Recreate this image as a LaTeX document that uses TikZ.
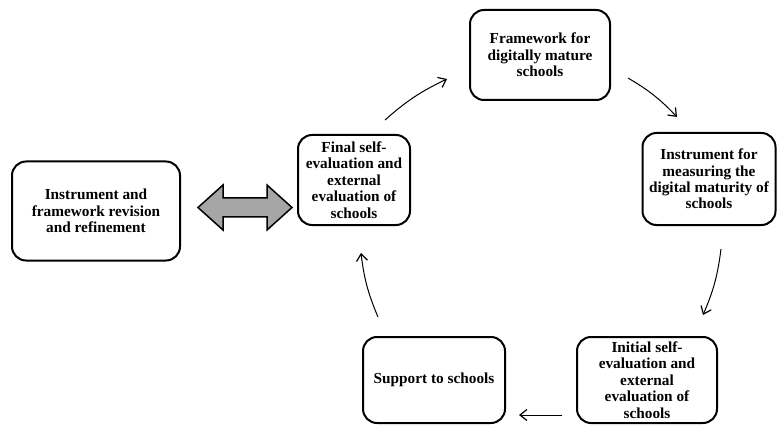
\documentclass[tikz,border=0pt]{standalone}
\usepackage{fontspec}
\setmainfont{Liberation Serif}
\usetikzlibrary{arrows.meta}
\begin{document}
\begin{tikzpicture}[x=1pt,y=-1pt,
  box/.style={draw=black, line width=2pt, rounded corners=14pt, align=center,
    font=\fontsize{15.3}{16.4}\selectfont\bfseries, inner sep=0pt},
  flow/.style={-{Straight Barb[length=7pt,width=11pt,line width=1.2pt]}, line width=1pt}]
\useasboundingbox (0,0) rectangle (777,425);
\node[box, minimum width=168pt, minimum height=99pt] (rev) at (96,211)
  {Instrument and\\framework revision\\and refinement};
\node[box, minimum width=112pt, minimum height=90pt] (fin) at (354,180)
  {Final self-\\evaluation and\\external\\evaluation of\\schools};
\node[box, minimum width=140pt, minimum height=90pt] (frm) at (540,55)
  {Framework for\\digitally mature\\schools};
\node[box, minimum width=133pt, minimum height=92pt] (ins) at (709,179)
  {Instrument for\\measuring the\\digital maturity of\\schools};
\node[box, minimum width=140pt, minimum height=86pt] (ini) at (647,380)
  {Initial self-\\evaluation and\\external\\evaluation of\\schools};
\node[box, minimum width=142pt, minimum height=86pt] (sup) at (434,380)
  {Support to schools};
% double arrow
\draw[line width=1.5pt, fill=black!35, line join=miter]
  (198,207.5) -- (223,185) -- (223,198) -- (267,198) -- (267,185) -- (292,207.5)
  -- (267,230) -- (267,217) -- (223,217) -- (223,230) -- cycle;
% cycle arrows
\coordinate (a1s) at (385,120); \coordinate (a1e) at (447,79);
\coordinate (a2s) at (628,78);  \coordinate (a2e) at (677,117);
\coordinate (a3s) at (721,249); \coordinate (a3e) at (703,315);
\coordinate (a4s) at (562,415); \coordinate (a4e) at (519,415);
\coordinate (a5s) at (378,317); \coordinate (a5e) at (361,253);
\draw[flow] (a1s) to[bend left=8] (a1e);
\draw[flow] (a2s) to[bend left=8] (a2e);
\draw[flow] (a3s) to[bend left=8] (a3e);
\draw[flow] (a4s) -- (a4e);
\draw[flow] (a5s) to[bend left=8] (a5e);
\end{tikzpicture}
\end{document}
